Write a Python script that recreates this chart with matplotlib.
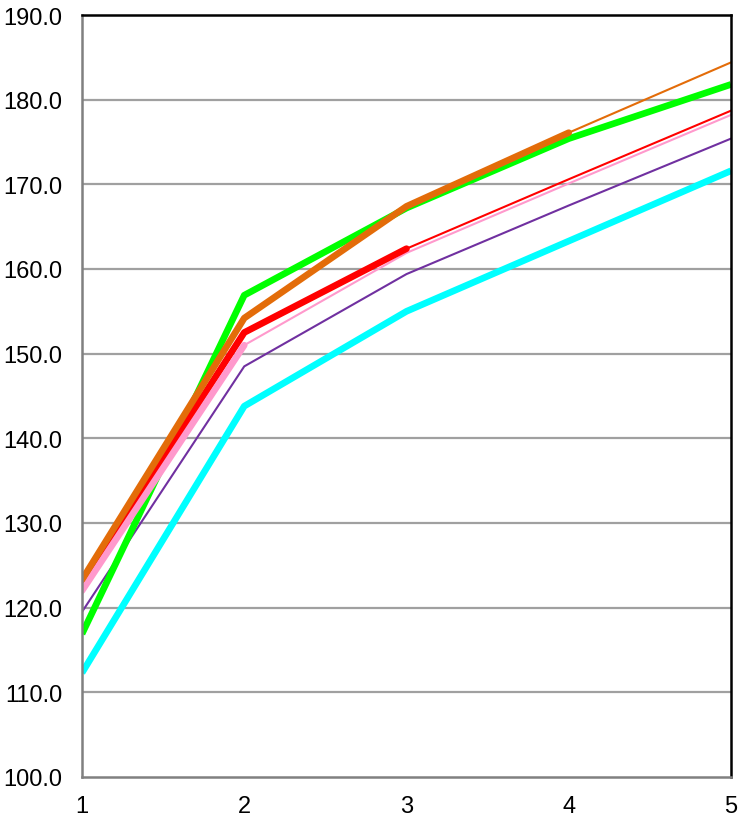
import matplotlib
matplotlib.use("Agg")
import matplotlib.pyplot as plt

x = [1, 2, 3, 4, 5]
orange = [123.3, 154.2, 167.4, 176.1, 184.4]
green = [116.9, 156.9, 167.2, 175.4, 181.8]
red = [122.8, 152.5, 162.4, 170.6, 178.7]
pink = [122.0, 151.0, 161.9, 170.1, 178.2]
purple = [119.5, 148.5, 159.4, 167.5, 175.4]
cyan = [112.3, 143.8, 155.0, 163.3, 171.6]

orange_thick_n = 4
red_thick_n = 3
pink_thick_n = 2

yticks = [100 + 10 * i for i in range(10)]

plt.rcParams['font.family'] = ['Liberation Sans', 'DejaVu Sans']
fsize = 17

fig = plt.figure(figsize=(7.39, 8.28), dpi=100)
ax = fig.add_axes([82 / 739, 50 / 828, 649 / 739, 762 / 828])

for yt in yticks[1:-1]:
    ax.axhline(yt, color='#a0a0a0', lw=1.6, zorder=1)

c_or, c_gr, c_rd, c_pk, c_pu, c_cy = '#E36C09', '#00FF00', '#FF0000', '#FF99CC', '#7030A0', '#00FFFF'
thin = 1.5
thick = 4.8

ax.plot(x, cyan, color=c_cy, lw=thick, zorder=3, solid_capstyle='butt')
ax.plot(x, purple, color=c_pu, lw=thin, zorder=3)
ax.plot(x, pink, color=c_pk, lw=thin, zorder=3)
ax.plot(x, red, color=c_rd, lw=thin, zorder=3)
ax.plot(x, orange, color=c_or, lw=thin, zorder=3)
ax.plot(x, green, color=c_gr, lw=thick, zorder=4, solid_capstyle='butt')
ax.plot(x[:red_thick_n], red[:red_thick_n], color=c_rd, lw=thick, zorder=5, solid_capstyle='round')
ax.plot(x[:pink_thick_n], pink[:pink_thick_n], color=c_pk, lw=thick, zorder=6, solid_capstyle='round')
ax.plot(x[:orange_thick_n], orange[:orange_thick_n], color=c_or, lw=thick, zorder=7, solid_capstyle='round')

ax.set_xlim(1, 5)
ax.set_ylim(100, 190)
ax.set_xticks(x)
ax.set_xticklabels([str(v) for v in x])
ax.set_yticks(yticks)
ax.set_yticklabels([f"{v:.1f}" for v in yticks])
ax.tick_params(axis='both', length=0, labelsize=fsize, colors='black')
ax.tick_params(axis='x', pad=13)
ax.tick_params(axis='y', pad=14)

ax.spines['left'].set_color('#808080')
ax.spines['bottom'].set_color('#808080')
ax.spines['top'].set_color('black')
ax.spines['right'].set_color('black')
for s in ax.spines.values():
    s.set_linewidth(1.8)
    s.set_zorder(8)

fig.savefig('out.png', dpi=100)
